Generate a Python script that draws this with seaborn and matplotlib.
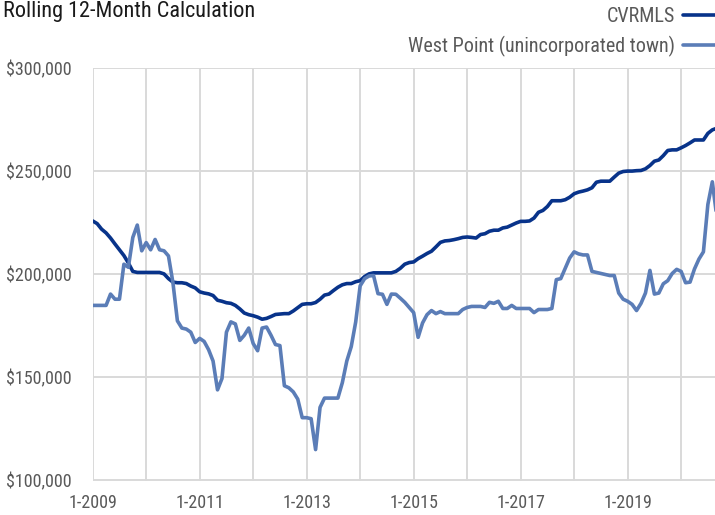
"""
plot.py — Rolling 12-month calculation, CVRMLS vs West Point
Saves: out.png (715x515)
"""

import matplotlib
matplotlib.use("Agg")
import matplotlib.pyplot as plt
from matplotlib import font_manager
from matplotlib.ticker import FuncFormatter
import numpy as np
import pandas as pd
import seaborn as sns

# ─────────────────────────────────────────────
#  DATA  (monthly, starting 1-2009, values in $1000s)
# ─────────────────────────────────────────────

TITLE = "Rolling 12-Month Calculation"
SERIES = ["CVRMLS", "West Point (unincorporated town)"]
START_YEAR = 2009

cvrmls = [
    226, 224.7, 222, 220.2, 217.7, 214.8, 212, 209.2, 205.6, 201.5,
    201, 201, 201, 201, 201, 201, 200.3, 198, 196.3, 196,
    196, 195.6, 194.4, 193.5, 191.6, 191, 190.6, 189.8, 187.5, 187,
    186.3, 186, 185, 183.3, 181.3, 180.5, 180, 179.3, 178.3, 178.7,
    179.6, 180.6, 180.8, 181, 181, 182.3, 183.9, 185.5, 185.8, 185.8,
    186.4, 188, 190, 190.5, 192.2, 193.8, 195, 195.6, 195.6, 196.5,
    197, 199, 200.3, 200.8, 200.8, 200.8, 200.8, 200.8, 201.5, 203,
    205, 205.8, 206.1, 207.7, 208.9, 210.2, 211.3, 213.4, 215.6, 216.3,
    216.5, 216.9, 217.4, 218, 218.2, 218, 217.7, 219.4, 219.8, 221,
    221.5, 221.5, 222.6, 223, 224, 225, 225.8, 225.8, 226, 227.4,
    230.2, 231.1, 233, 235.8, 235.8, 235.8, 236.3, 237.5, 239.2, 240,
    240.5, 241.1, 242.1, 244.8, 245.3, 245.3, 245.3, 247.3, 249.2, 250,
    250.2, 250.2, 250.4, 250.5, 251.3, 252.9, 255, 255.6, 257.7, 260.2,
    260.5, 260.5, 261.5, 262.6, 263.9, 265.3, 265.3, 265.3, 268.5, 270.2,
    271,
]

west_point = [
    185, 185, 185, 185, 190.5, 188, 188, 205, 203.5, 218,
    224, 211.5, 215.5, 212, 217, 212, 211.5, 209, 196, 177.5,
    174, 173.5, 172, 167, 169, 167.5, 163.5, 158, 144, 149.5,
    172, 177, 176, 168, 170.5, 174, 166.5, 163, 174, 174.5,
    170.5, 166, 165.5, 146, 145, 143, 139.5, 130.5, 130.5, 130,
    115, 135.5, 140, 140, 140, 140, 147.5, 158, 165, 177,
    194.5, 198, 199.3, 199.5, 190.7, 190.4, 185.5, 190.5, 190.4, 188.5,
    186.5, 184, 181.5, 169.5, 176.5, 180.5, 182.5, 181, 182, 181,
    181, 181, 181, 183, 184, 184.5, 184.5, 184.5, 184, 186.5,
    186, 187, 183.5, 183.5, 185, 183.5, 183.5, 183.5, 183.5, 181.5,
    183, 183, 183, 183.5, 197.5, 198, 203, 208, 211, 210,
    209.5, 209.5, 201.5, 201, 200.5, 200, 199.5, 199.5, 191, 188,
    187, 185.5, 182.5, 186, 191, 202, 190.5, 191, 195.5, 197,
    200.5, 202.5, 201.5, 196, 196.3, 202.7, 207.5, 211, 234, 245,
    228,
]

YEARS = list(range(2009, 2021))
YEAR_LABELS = ["1-2009", "", "1-2011", "", "1-2013", "", "1-2015", "",
               "1-2017", "", "1-2019", ""]
Y_TICKS = [100000, 150000, 200000, 250000, 300000]

COLORS = {"CVRMLS": "#08338a", "West Point (unincorporated town)": "#5b7db7"}
GRID = "#d9d9d9"
TEXT = "#595959"

# narrow font first, whichever is installed
installed = {f.name for f in font_manager.fontManager.ttflist}
FONTS = [f for f in ["Liberation Sans Narrow", "DejaVu Sans Condensed",
                     "Roboto Condensed", "Roboto"] if f in installed]
FONTS.append("DejaVu Sans")
NARROW = FONTS[0] in ("Liberation Sans Narrow", "DejaVu Sans Condensed", "Roboto Condensed")
FS = 13 if NARROW else 11

# ─────────────────────────────────────────────
#  DATAFRAME
# ─────────────────────────────────────────────

n = len(cvrmls)
df = pd.DataFrame({
    "month": np.concatenate([np.arange(n), np.arange(n)]),
    "price": np.array(cvrmls + west_point) * 1000,
    "series": [SERIES[0]] * n + [SERIES[1]] * n,
})

# ─────────────────────────────────────────────
#  PLOT
# ─────────────────────────────────────────────

sns.set_theme(style="white")
plt.rcParams["font.family"] = FONTS

fig = plt.figure(figsize=(7.15, 5.15), dpi=100)
ax = fig.add_axes([92.7 / 715, 1 - 480.5 / 515, 1 - 92.7 / 715, 412 / 515])

sns.lineplot(data=df, x="month", y="price", hue="series", hue_order=SERIES,
             palette=COLORS, linewidth=2.6, ax=ax, legend=True)
for line in ax.get_lines():
    line.set_solid_joinstyle("round")

ax.set_xlim(0, 139.6)
ax.set_ylim(100000, 300000)
ax.set_xticks([(y - START_YEAR) * 12 for y in YEARS])
ax.set_xticklabels(YEAR_LABELS)
ax.set_yticks(Y_TICKS)
ax.yaxis.set_major_formatter(FuncFormatter(lambda v, _: f"${v:,.0f}"))

ax.grid(True, color=GRID, linewidth=1.4)
ax.set_axisbelow(True)
for s in ax.spines.values():
    s.set_visible(False)
ax.tick_params(axis="both", length=5, width=1.4, color=GRID,
               labelcolor=TEXT, labelsize=FS)
ax.tick_params(axis="y", pad=10)
ax.tick_params(axis="x", pad=5)
ax.set_xlabel("")
ax.set_ylabel("")

handles, labels = ax.get_legend_handles_labels()
ax.get_legend().remove()
leg = fig.legend(handles, labels, loc="upper right",
                 bbox_to_anchor=(1.0, 1 - 7 / 515),
                 markerfirst=False, frameon=False, fontsize=FS + 1.5,
                 handlelength=1.6, handletextpad=0.4, labelspacing=0.5,
                 borderpad=0, borderaxespad=0)
for t in leg.get_texts():
    t.set_color(TEXT)

fig.text(0.004, 1 - 12 / 515, TITLE, fontsize=FS + 3, color="#1a1a1a", va="center")

fig.savefig("out.png", dpi=100)
plt.close(fig)
